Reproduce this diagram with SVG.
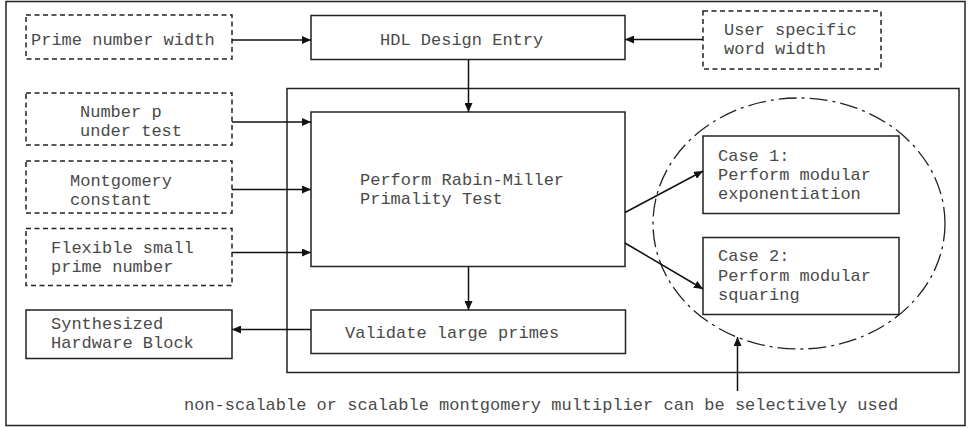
<svg xmlns="http://www.w3.org/2000/svg" width="968" height="428" viewBox="0 0 968 428">
<style>
.t{font-family:"Liberation Mono","Courier New",monospace;font-size:17px;fill:#4a4a4a}
.box{fill:none;stroke:#222;stroke-width:1.5}
.dbox{fill:none;stroke:#222;stroke-width:1.5;stroke-dasharray:5 3.5}
.c{fill:none;stroke:#111;stroke-width:1.5;marker-end:url(#ah)}
.ell{fill:none;stroke:#222;stroke-width:1.3;stroke-dasharray:18 5 3 5}
</style>
<defs>
<marker id="ah" markerUnits="userSpaceOnUse" markerWidth="10" markerHeight="8" refX="9" refY="4" orient="auto">
<path d="M0,0 L9,4 L0,8 Z" fill="#111"/>
</marker>
</defs>
<rect id="frame" x="6" y="1.5" width="959" height="424" class="box"/>
<g id="inner-frame"><rect x="287" y="88.5" width="672" height="284" class="box"/></g>
<g id="prime-width"><rect x="26" y="15" width="206" height="44" class="dbox"/><text class="t" x="31" y="45">Prime number width</text></g>
<g id="hdl"><rect x="311" y="15.5" width="314" height="44" class="box"/><text class="t" x="380" y="45">HDL Design Entry</text></g>
<g id="user-width"><rect x="703" y="11" width="178" height="58" class="dbox"/><text class="t" x="724" y="35">User specific</text><text class="t" x="724" y="54">word width</text></g>
<g id="number-p"><rect x="26" y="93" width="206" height="52" class="dbox"/><text class="t" x="80" y="117">Number p</text><text class="t" x="80" y="136">under test</text></g>
<g id="montgomery"><rect x="26" y="161" width="206" height="52" class="dbox"/><text class="t" x="70" y="186">Montgomery</text><text class="t" x="70" y="205">constant</text></g>
<g id="small-prime"><rect x="26" y="228.5" width="206" height="57" class="dbox"/><text class="t" x="51" y="253">Flexible small</text><text class="t" x="51" y="272">prime number</text></g>
<g id="rabin"><rect x="311" y="112" width="314" height="154.5" class="box"/><text class="t" x="360" y="185">Perform Rabin-Miller</text><text class="t" x="360" y="204">Primality Test</text></g>
<g id="case1"><rect x="703" y="136" width="196" height="77.5" class="box"/><text class="t" x="718" y="161">Case 1:</text><text class="t" x="718" y="180">Perform modular</text><text class="t" x="718" y="199">exponentiation</text></g>
<g id="case2"><rect x="703" y="237.5" width="196" height="77" class="box"/><text class="t" x="718" y="261">Case 2:</text><text class="t" x="718" y="280.5">Perform modular</text><text class="t" x="718" y="300">squaring</text></g>
<g id="multiplier-group"><ellipse cx="799" cy="223.5" rx="146" ry="125.5" class="ell"/></g>
<g id="validate"><rect x="311" y="310" width="314.5" height="43.5" class="box"/><text class="t" x="345" y="338">Validate large primes</text></g>
<g id="synth"><rect x="26" y="310" width="206" height="48.5" class="box"/><text class="t" x="51" y="329">Synthesized</text><text class="t" x="51" y="348">Hardware Block</text></g>
<g id="note"><text class="t" x="184" y="410">non-scalable or scalable montgomery multiplier can be selectively used</text></g>
<g id="connectors">
<line x1="232" y1="40" x2="311" y2="40" class="c"/>
<line x1="703" y1="39.5" x2="625" y2="39.5" class="c"/>
<line x1="468.5" y1="59.5" x2="468.5" y2="112" class="c"/>
<line x1="232" y1="122" x2="311" y2="122" class="c"/>
<line x1="232" y1="189.5" x2="311" y2="189.5" class="c"/>
<line x1="232" y1="252.5" x2="311" y2="252.5" class="c"/>
<line x1="625" y1="212.5" x2="703" y2="171" class="c"/>
<line x1="625" y1="243" x2="703" y2="289" class="c"/>
<line x1="468.5" y1="266.5" x2="468.5" y2="310" class="c"/>
<line x1="311" y1="329.5" x2="232" y2="329.5" class="c"/>
<line x1="737.5" y1="391" x2="737.5" y2="337" class="c"/>
</g>
</svg>
